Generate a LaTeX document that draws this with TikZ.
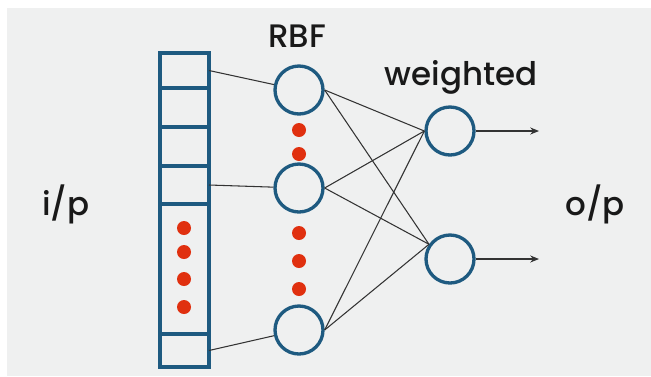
\documentclass[tikz,border=0pt]{standalone}
\usepackage{fontspec}
\setmainfont{Poppins Medium}
\usetikzlibrary{arrows.meta, positioning}

\definecolor{netblue}{HTML}{1E5A80}
\definecolor{dotred}{HTML}{E0300F}
\definecolor{panel}{HTML}{EFF0F0}

\tikzset{
	cell/.style={rectangle, draw=netblue, line width=1.9pt, minimum width=0.98cm, inner sep=0pt, outer sep=0pt},
	unit/.style={circle, draw=netblue, line width=1.9pt, minimum size=0.96cm, inner sep=0pt},
	dot/.style={circle, fill=dotred, minimum size=0.28cm, inner sep=0pt},
	link/.style={draw=black!80, line width=0.6pt},
	arrow/.style={link, -{Stealth[length=5pt, width=4pt]}},
	label/.style={font=\fontsize{18.5}{22}\selectfont, anchor=base, text=black!90}
}

\begin{document}
\begin{tikzpicture}[x=0.02cm, y=-0.02cm]
		
		% Panel
		\useasboundingbox (0,0) rectangle (651,376);
		\fill[panel] (7,8) rectangle (651,376);
		
		% Input column
		\node (c1) [cell, minimum height=0.70cm] at (184.5,70.5) {};
		\node (c2) [cell, minimum height=0.78cm] at (184.5,107.5) {};
		\node (c3) [cell, minimum height=0.78cm] at (184.5,146.5) {};
		\node (c4) [cell, minimum height=0.76cm] at (184.5,185) {};
		\node (c5) [cell, minimum height=2.60cm] at (184.5,269) {};
		\node (c6) [cell, minimum height=0.66cm] at (184.5,350.5) {};
		
		% RBF layer
		\node (r1) [unit] at (299,90) {};
		\node (r2) [unit] at (299,188) {};
		\node (r3) [unit] at (299,330) {};
		
		% Weighted outputs
		\node (o1) [unit] at (450,131) {};
		\node (o2) [unit] at (450,259) {};
		
		% Dots
		\foreach \y [count=\i] in {228,252,279,307}
			\node (d\i) [dot] at (184,\y) {};
		\foreach \y [count=\i] in {130,154,233,261,289}
			\node (e\i) [dot] at (299,\y) {};
		
		% Labels
		\node (rbf) [label] at (297,47) {RBF};
		\node (wtd) [label] at (461,85) {weighted};
		\node (inp) [label] at (66,215) {i/p};
		\node (outp) [label] at (595,215) {o/p};
		
		% Links
		\draw [link] (c1.east) -- (r1);
		\draw [link] (c4.east) -- (r2);
		\draw [link] (c6.east) -- (r3);
		\foreach \r in {r1,r2,r3} {
			\draw [link] (\r.east) -- (o1.west);
			\draw [link] (\r.east) -- (o2.145);
		}
		
		% Arrows
		\coordinate (a1) at (539,131);
		\coordinate (a2) at (539,259);
		\draw [arrow] (o1.east) -- (a1);
		\draw [arrow] (o2.east) -- (a2);
		
	\end{tikzpicture}
\end{document}
